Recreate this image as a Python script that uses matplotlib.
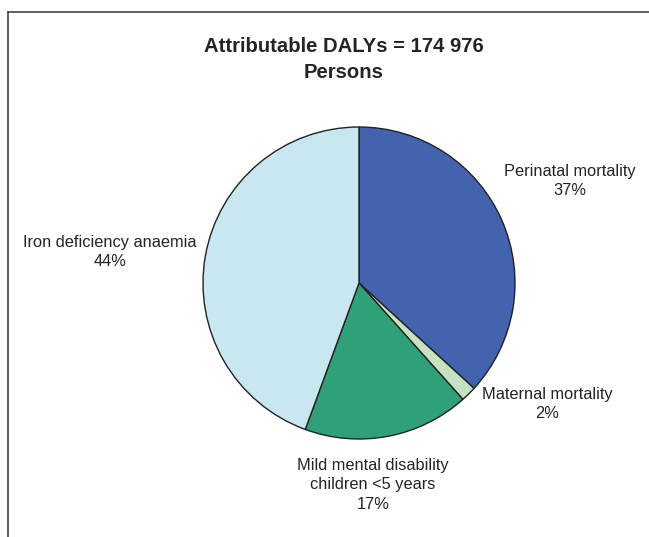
import matplotlib
matplotlib.use("Agg")
import matplotlib.pyplot as plt
from matplotlib.lines import Line2D

plt.rcParams['font.family'] = ['Liberation Sans', 'DejaVu Sans']

title_lines = ["Attributable DALYs = 174 976", "Persons"]
categories = ["Perinatal mortality", "Maternal mortality",
              "Mild mental disability\nchildren <5 years", "Iron deficiency anaemia"]
values = [36.8, 1.6, 17.2, 44.4]
pct_labels = ["37%", "2%", "17%", "44%"]
colors = ["#4363ae", "#c5e3c0", "#2fa077", "#c8e7f1"]

W, H = 649, 537
fig = plt.figure(figsize=(W / 100, H / 100), dpi=100)

def fx(x):
    return x / W

def fy(y):
    return 1 - y / H

# frame (cropped on the right and bottom)
fig.add_artist(Line2D([fx(8), fx(8)], [fy(12), fy(540)], color="#333333", lw=1.1))
fig.add_artist(Line2D([fx(8), fx(652)], [fy(12), fy(12)], color="#333333", lw=1.1))

cx, cy, r = 359, 283, 156
ax = fig.add_axes([fx(cx - r), fy(cy + r), 2 * r / W, 2 * r / H])
ax.pie(values, colors=colors, startangle=90, counterclock=False,
       wedgeprops=dict(edgecolor="#222222", linewidth=1.0), radius=1.0)
ax.set_xlim(-1, 1)
ax.set_ylim(-1, 1)
ax.set_aspect('equal')
ax.axis('off')

tc = "#262324"
fig.text(fx(344), fy(47), title_lines[0], ha="center", va="center",
         fontsize=14.6, fontweight="bold", color=tc)
fig.text(fx(344), fy(73), title_lines[1], ha="center", va="center",
         fontsize=14.6, fontweight="bold", color=tc)

label_pos = [(570, 181), (547, 404), (373, 485), (110, 252)]
for name, pct, (x, y) in zip(categories, pct_labels, label_pos):
    fig.text(fx(x), fy(y), f"{name}\n{pct}", ha="center", va="center",
             fontsize=11.8, color=tc, linespacing=1.38)

fig.savefig("out.png", dpi=100)
